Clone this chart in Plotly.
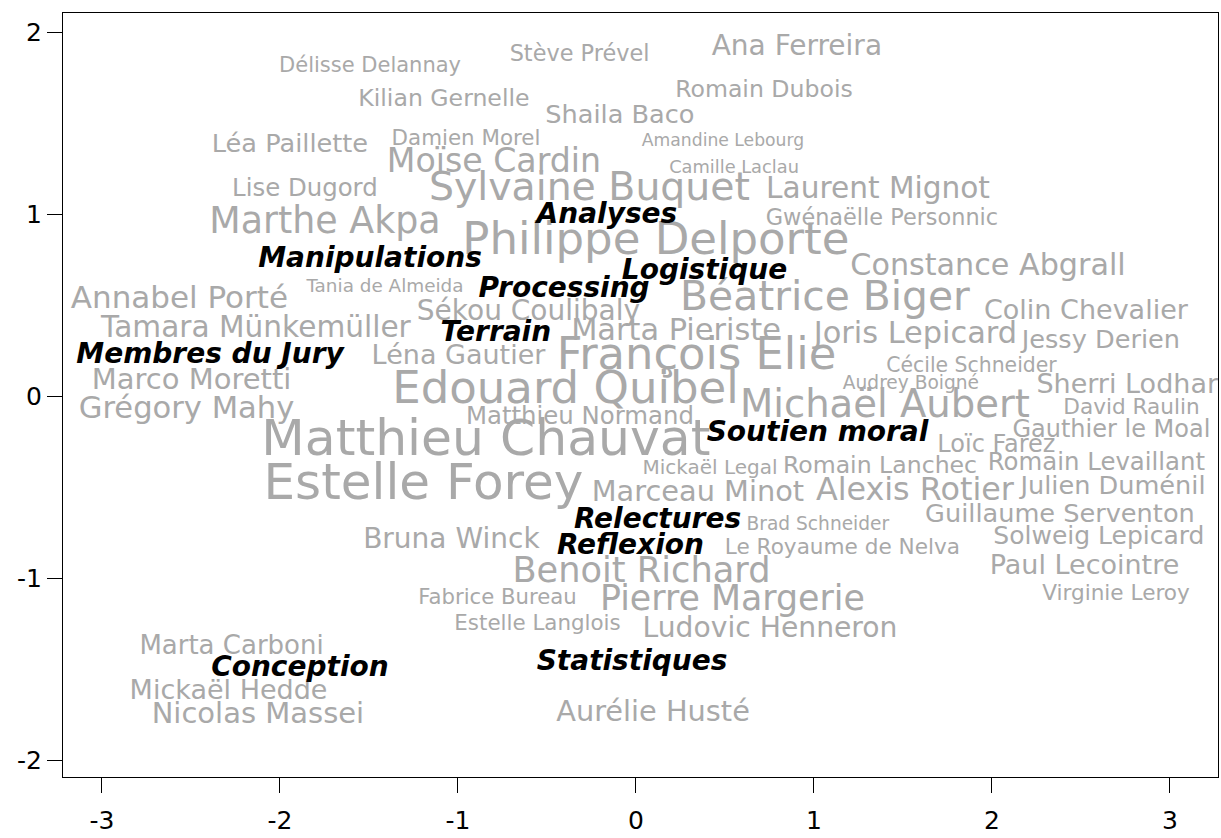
"""Word map of people and roles, drawn as text on a plane."""

import plotly.graph_objects as go

# people (grey labels): name, coordinates, relative text size (cex)
names = [
    "Délisse Delannay", "Stève Prével", "Ana Ferreira", "Kilian Gernelle",
    "Romain Dubois", "Shaila Baco", "Léa Paillette", "Damien Morel",
    "Amandine Lebourg", "Moïse Cardin", "Camille Laclau", "Sylvaine Buquet",
    "Laurent Mignot", "Lise Dugord", "Marthe Akpa", "Gwénaëlle Personnic",
    "Philippe Delporte", "Constance Abgrall", "Tania de Almeida", "Annabel Porté",
    "Béatrice Biger", "Colin Chevalier", "Sékou Coulibaly", "Tamara Münkemüller",
    "Marta Pieriste", "Joris Lepicard", "Jessy Derien", "Léna Gautier",
    "François Elie", "Cécile Schneider", "Marco Moretti", "Audrey Boigné",
    "Sherri Lodhar", "Edouard Quibel", "Grégory Mahy", "Matthieu Normand",
    "Michaël Aubert", "David Raulin", "Matthieu Chauvat", "Gauthier le Moal",
    "Loïc Farez", "Mickaël Legal", "Romain Lanchec", "Romain Levaillant",
    "Estelle Forey", "Marceau Minot", "Alexis Rotier", "Julien Duménil",
    "Brad Schneider", "Guillaume Serventon", "Bruna Winck", "Le Royaume de Nelva",
    "Solweig Lepicard", "Benoit Richard", "Paul Lecointre", "Fabrice Bureau",
    "Pierre Margerie", "Virginie Leroy", "Estelle Langlois", "Ludovic Henneron",
    "Marta Carboni", "Mickaël Hedde", "Nicolas Massei", "Aurélie Husté",
]
names_x = [
    -1.494, -0.317, 0.904, -1.079,
    0.719, -0.090, -1.944, -0.955,
    0.489, -0.798, 0.551, -0.261,
    1.360, -1.860, -1.747, 1.382,
    0.112, 1.978, -1.410, -2.565,
    1.062, 2.528, -0.604, -2.135,
    0.225, 1.570, 2.612, -0.997,
    0.340, 1.885, -2.497, 1.545,
    2.760, -0.396, -2.525, -0.315,
    1.399, 2.784, -0.843, 2.671,
    2.025, 0.416, 1.371, 2.587,
    -1.194, 0.348, 1.567, 2.680,
    1.022, 2.382, -1.037, 1.160,
    2.601, 0.031, 2.520, -0.778,
    0.542, 2.697, -0.553, 0.753,
    -2.272, -2.289, -2.124, 0.096,
]
names_y = [
    1.808, 1.874, 1.912, 1.626,
    1.676, 1.538, 1.379, 1.412,
    1.401, 1.275, 1.253, 1.132,
    1.132, 1.132, 0.945, 0.973,
    0.841, 0.709, 0.599, 0.527,
    0.527, 0.462, 0.456, 0.368,
    0.352, 0.335, 0.302, 0.214,
    0.209, 0.159, 0.077, 0.066,
    0.055, 0.027, -0.077, -0.121,
    -0.060, -0.071, -0.253, -0.192,
    -0.275, -0.401, -0.390, -0.374,
    -0.495, -0.538, -0.527, -0.505,
    -0.709, -0.659, -0.797, -0.835,
    -0.780, -0.973, -0.940, -1.115,
    -1.126, -1.093, -1.258, -1.286,
    -1.379, -1.626, -1.758, -1.747,
]
names_cex = [
    1.05, 1.12, 1.40, 1.18,
    1.18, 1.28, 1.28, 1.07,
    0.86, 1.66, 0.89, 1.97,
    1.48, 1.22, 1.82, 1.12,
    2.25, 1.51, 0.92, 1.55,
    2.04, 1.35, 1.40, 1.48,
    1.52, 1.52, 1.28, 1.35,
    2.24, 1.02, 1.45, 0.93,
    1.35, 2.25, 1.53, 1.22,
    1.93, 1.08, 2.52, 1.20,
    1.20, 1.00, 1.18, 1.22,
    2.50, 1.44, 1.59, 1.28,
    0.93, 1.28, 1.40, 1.08,
    1.25, 1.76, 1.35, 1.06,
    1.74, 1.08, 1.07, 1.41,
    1.30, 1.35, 1.45, 1.44,
]

# roles (black bold italic labels)
roles = [
    "Analyses", "Manipulations", "Logistique", "Processing", "Terrain",
    "Membres du Jury", "Soutien moral", "Relectures", "Reflexion",
    "Conception", "Statistiques",
]
roles_x = [-0.163, -1.494, 0.385, -0.404, -0.787, -2.393, 1.020, 0.121, -0.031, -1.888, -0.022]
roles_y = [0.989, 0.747, 0.681, 0.582, 0.341, 0.220, -0.209, -0.687, -0.830, -1.500, -1.467]
roles_cex = 1.4

x_ticks = [-3, -2, -1, 0, 1, 2, 3]
y_ticks = [-2, -1, 0, 1, 2]

BASE_SIZE = 20
FONT = "Verdana, DejaVu Sans, sans-serif"

fig = go.Figure()

fig.add_trace(go.Scatter(
    x=names_x, y=names_y,
    text=names,
    mode="text",
    textposition="middle center",
    textfont=dict(family=FONT, size=[c * BASE_SIZE for c in names_cex], color="#a9a9a9"),
    hoverinfo="text",
    cliponaxis=True,
))

fig.add_trace(go.Scatter(
    x=roles_x, y=roles_y,
    text=roles,
    mode="text",
    textposition="middle center",
    textfont=dict(family=FONT, size=roles_cex * BASE_SIZE, color="black",
                  weight="bold", style="italic"),
    hoverinfo="text",
    cliponaxis=True,
))

axis_common = dict(
    showgrid=False,
    zeroline=False,
    showline=True,
    mirror=True,
    linecolor="black",
    linewidth=1,
    ticks="outside",
    ticklen=15,
    tickwidth=1,
    tickcolor="black",
    tickfont=dict(family=FONT, size=25, color="black"),
    tickmode="array",
    automargin=False,
)

fig.update_xaxes(
    range=[-3.219, 3.270],
    tickvals=x_ticks,
    ticktext=[str(v) for v in x_ticks],
    ticklabelstandoff=6,
    **axis_common,
)
fig.update_yaxes(
    range=[-2.093, 2.106],
    tickvals=y_ticks,
    ticktext=[str(v) for v in y_ticks],
    **axis_common,
)

fig.update_layout(
    width=1221,
    height=838,
    margin=dict(l=63, r=3, t=13, b=61, autoexpand=False),
    plot_bgcolor="white",
    paper_bgcolor="white",
    showlegend=False,
)

# drop the browser's default body margin so the figure fills the window
fig.write_html(
    "out.html",
    config={"displayModeBar": False},
    post_script="document.body.style.margin = '0';",
)
